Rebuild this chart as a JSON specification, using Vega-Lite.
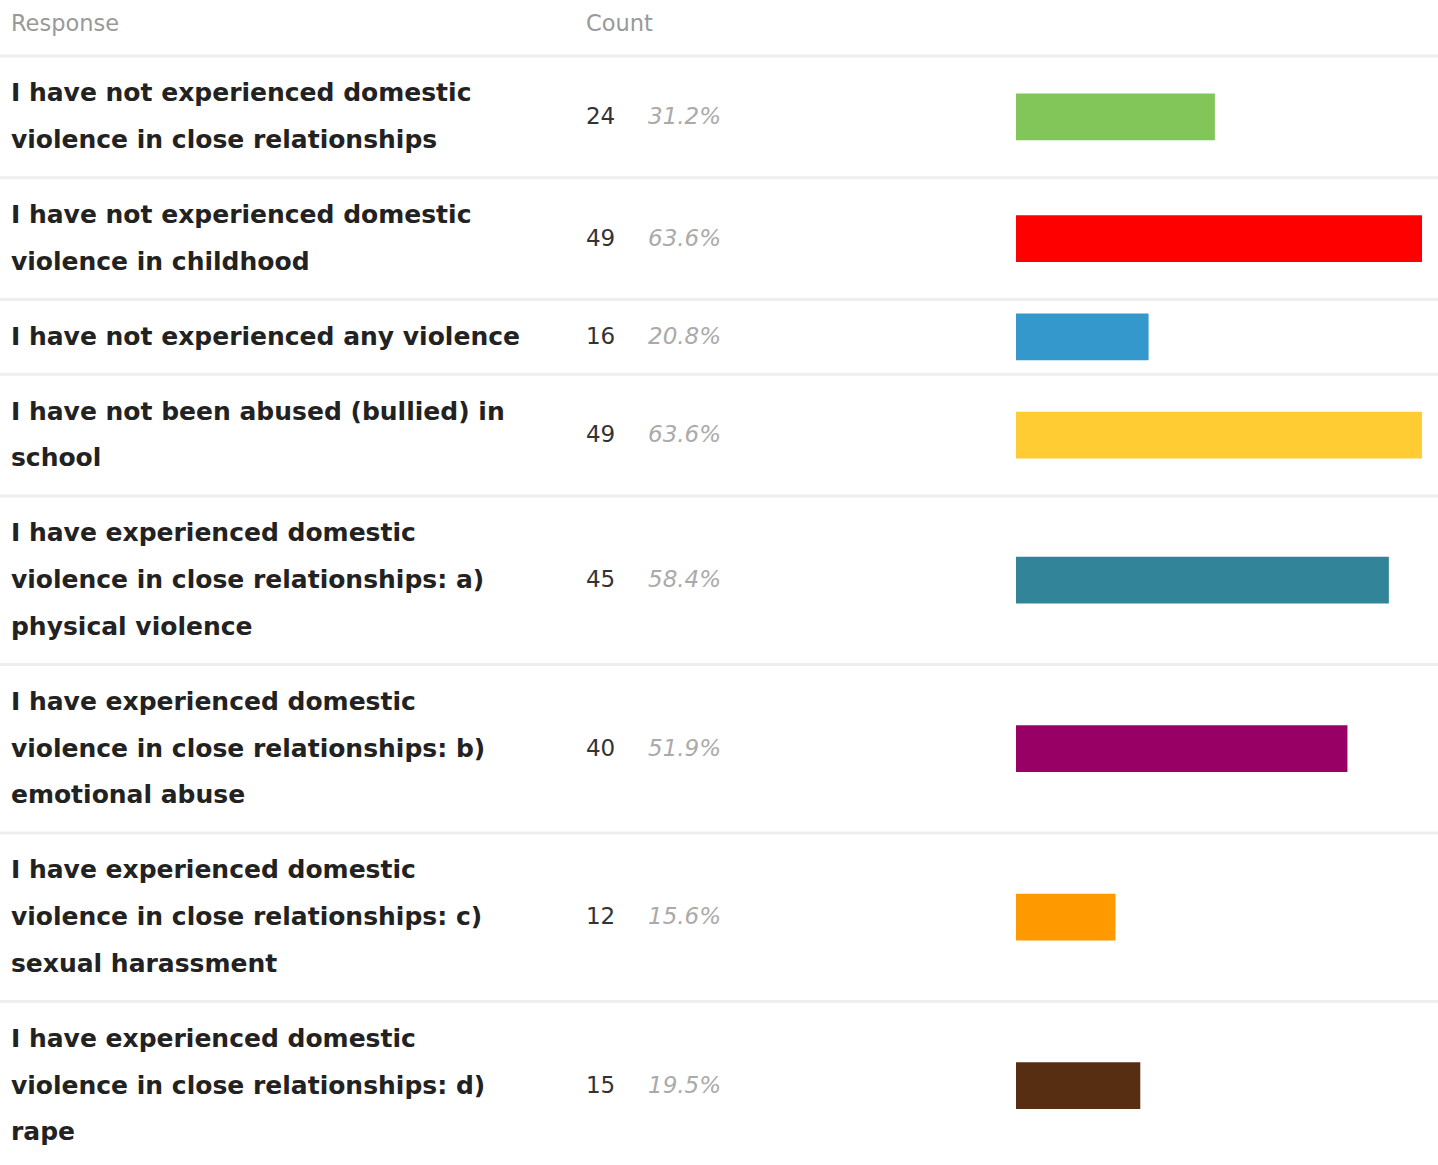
{
  "$schema": "https://vega.github.io/schema/vega-lite/v6.json",
  "width": 1438,
  "height": 1165,
  "padding": 0,
  "autosize": {"type": "fit", "contains": "padding"},
  "background": "white",
  "config": {"view": {"stroke": null}},
  "data": {
    "values": [
      {"response": "I have not experienced domestic\nviolence in close relationships", "count": 24, "pct": 0.312},
      {"response": "I have not experienced domestic\nviolence in childhood", "count": 49, "pct": 0.636},
      {"response": "I have not experienced any violence", "count": 16, "pct": 0.208},
      {"response": "I have not been abused (bullied) in\nschool", "count": 49, "pct": 0.636},
      {"response": "I have experienced domestic\nviolence in close relationships: a)\nphysical violence", "count": 45, "pct": 0.584},
      {"response": "I have experienced domestic\nviolence in close relationships: b)\nemotional abuse", "count": 40, "pct": 0.519},
      {"response": "I have experienced domestic\nviolence in close relationships: c)\nsexual harassment", "count": 12, "pct": 0.156},
      {"response": "I have experienced domestic\nviolence in close relationships: d)\nrape", "count": 15, "pct": 0.195}
    ]
  },
  "layer": [
    {
      "transform": [
        {"calculate": "length(split(datum.response, '\\n'))", "as": "lines"},
        {"calculate": "datum.lines + 0.6", "as": "rowH"},
        {"window": [{"op": "sum", "field": "rowH", "as": "cum"}], "frame": [null, 0]},
        {"calculate": "1.197 + datum.cum - datum.rowH", "as": "yTop"},
        {"calculate": "datum.yTop - 0.032", "as": "sepTop"},
        {"calculate": "datum.yTop + 0.032", "as": "sepBot"},
        {"calculate": "datum.yTop + datum.rowH / 2", "as": "yMid"},
        {"calculate": "datum.yMid - (datum.lines - 1) / 2", "as": "yText"},
        {"calculate": "datum.yMid - 0.5", "as": "barTop"},
        {"calculate": "datum.yMid + 0.5", "as": "barBot"}
      ],
      "layer": [
        {
          "mark": {"type": "rect", "color": "#eeeeee"},
          "encoding": {
            "x": {"datum": -122.62, "type": "quantitative", "scale": {"domain": [-122.62, 50.93], "nice": false, "zero": false}, "axis": null},
            "x2": {"datum": 50.93},
            "y": {"field": "sepTop", "type": "quantitative", "scale": {"domain": [0, 24.893], "reverse": true, "nice": false, "zero": false}, "axis": null},
            "y2": {"field": "sepBot"}
          }
        },
        {
          "mark": {"type": "bar"},
          "encoding": {
            "x": {"field": "count", "type": "quantitative", "scale": {"domain": [-122.62, 50.93], "nice": false, "zero": false}, "axis": null},
            "x2": {"datum": 0},
            "y": {"field": "barTop", "type": "quantitative", "scale": {"domain": [0, 24.893], "reverse": true, "nice": false, "zero": false}, "axis": null},
            "y2": {"field": "barBot"},
            "color": {
              "field": "response",
              "type": "nominal",
              "sort": null,
              "legend": null,
              "scale": {"range": ["#82c65a", "#ff0000", "#3598cd", "#ffcc33", "#328599", "#990066", "#ff9900", "#582e12"]}
            }
          }
        },
        {
          "mark": {"type": "text", "align": "left", "baseline": "middle", "font": "DejaVu Sans", "fontWeight": "bold", "fontSize": 25, "lineHeight": 46.8, "lineBreak": "\n", "color": "#222222"},
          "encoding": {
            "x": {"datum": -121.3, "type": "quantitative"},
            "y": {"field": "yText", "type": "quantitative"},
            "text": {"field": "response"}
          }
        },
        {
          "mark": {"type": "text", "align": "left", "baseline": "middle", "font": "DejaVu Sans", "fontSize": 23, "color": "#333333"},
          "encoding": {
            "x": {"datum": -51.9, "type": "quantitative"},
            "y": {"field": "yMid", "type": "quantitative"},
            "text": {"field": "count", "type": "quantitative"}
          }
        },
        {
          "mark": {"type": "text", "align": "left", "baseline": "middle", "font": "DejaVu Sans", "fontStyle": "italic", "fontSize": 23, "color": "#aaaaaa"},
          "encoding": {
            "x": {"datum": -44.41, "type": "quantitative"},
            "y": {"field": "yMid", "type": "quantitative"},
            "text": {"field": "pct", "type": "quantitative", "format": ".1%"}
          }
        }
      ]
    },
    {
      "data": {"values": [{"label": "Response"}]},
      "mark": {"type": "text", "align": "left", "baseline": "middle", "font": "DejaVu Sans", "fontSize": 22.5, "color": "#999999"},
      "encoding": {
        "x": {"datum": -121.3, "type": "quantitative"},
        "y": {"datum": 0.52, "type": "quantitative"},
        "text": {"field": "label"}
      }
    },
    {
      "data": {"values": [{"label": "Count"}]},
      "mark": {"type": "text", "align": "left", "baseline": "middle", "font": "DejaVu Sans", "fontSize": 22.5, "color": "#999999"},
      "encoding": {
        "x": {"datum": -51.9, "type": "quantitative"},
        "y": {"datum": 0.52, "type": "quantitative"},
        "text": {"field": "label"}
      }
    }
  ]
}
